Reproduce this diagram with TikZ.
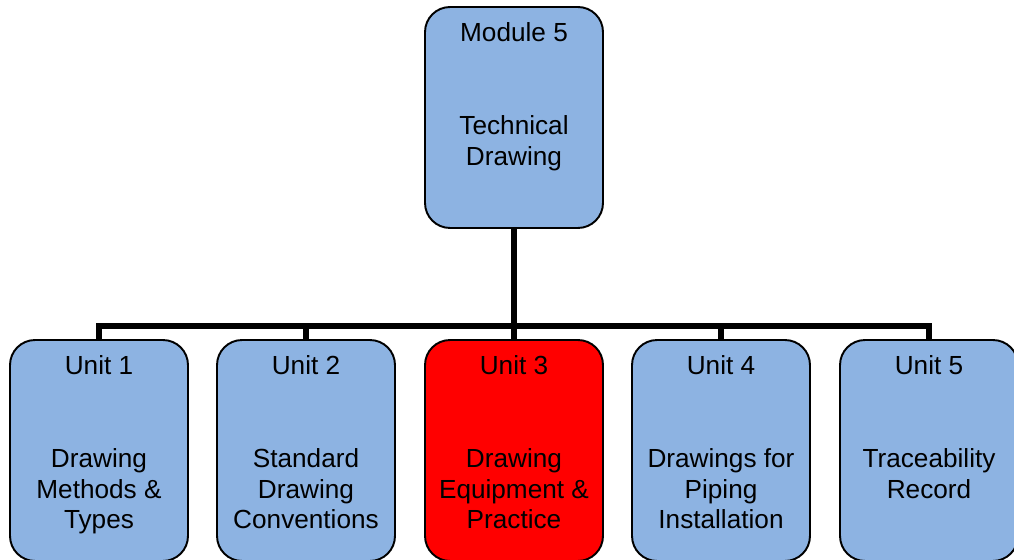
\documentclass[tikz,border=0pt]{standalone}
\usepackage{fontspec}
\setmainfont{Liberation Sans}
\usetikzlibrary{positioning}

\definecolor{boxblue}{HTML}{8DB3E2}
\definecolor{boxred}{HTML}{FF0000}

\tikzset{
  card/.style={draw=black, line width=1.1pt, rounded corners=0.5cm,
    minimum width=3.56cm, minimum height=4.42cm, fill=boxblue},
  cardtext/.style={align=center, inner sep=0pt, anchor=north,
    font=\fontsize{14.9}{17.6}\selectfont},
  link/.style={line width=3.4pt, line join=miter}
}

\begin{document}
\begin{tikzpicture}[x=0.02cm, y=-0.02cm]
        % Frame of the picture
        \useasboundingbox (0,0) rectangle (1014,560);

        % Module box on top
        \node[card] (M) at (514,117.5) {};
        \node[cardtext, below=16*0.02cm of M.north] (Mt)
          {Module 5\\[2\baselineskip]Technical\\Drawing};

        % Unit boxes in a row
        \node[card] (U1) at (99,450.5) {};
        \node[card] (U2) at (306,450.5) {};
        \node[card, fill=boxred] (U3) at (514,450.5) {};
        \node[card] (U4) at (721,450.5) {};
        \node[card] (U5) at (929,450.5) {};

        % Unit texts
        \node[cardtext, below=16*0.02cm of U1.north] (U1t)
          {Unit 1\\[2\baselineskip]Drawing\\Methods \&\\Types};
        \node[cardtext, below=16*0.02cm of U2.north] (U2t)
          {Unit 2\\[2\baselineskip]Standard\\Drawing\\Conventions};
        \node[cardtext, below=16*0.02cm of U3.north] (U3t)
          {Unit 3\\[2\baselineskip]Drawing\\Equipment \&\\Practice};
        \node[cardtext, below=16*0.02cm of U4.north] (U4t)
          {Unit 4\\[2\baselineskip]Drawings for\\Piping\\Installation};
        \node[cardtext, below=16*0.02cm of U5.north] (U5t)
          {Unit 5\\[2\baselineskip]Traceability\\Record};

        % Connectors
        \coordinate (bar) at (514,326);
        \draw[link] (M.south) -- (bar);
        \draw[link] (U1.north) -- (U1.north |- bar) -- (U5.north |- bar) -- (U5.north);
        \foreach \u in {U2,U3,U4}
          \draw[link] (\u.north) -- (\u.north |- bar);

    \end{tikzpicture}
\end{document}
